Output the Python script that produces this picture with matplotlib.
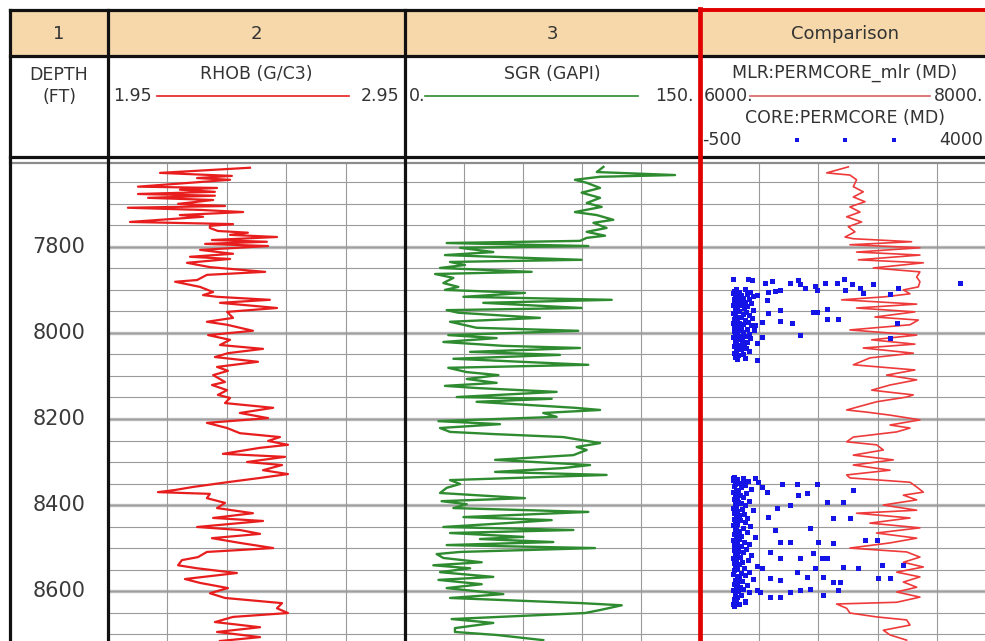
import matplotlib
matplotlib.use("Agg")
import matplotlib.pyplot as plt

# ---------------- data ----------------
track_titles = ["1", "2", "3", "Comparison"]
depth_labels = [7800, 8000, 8200, 8400, 8600]
grid_depths = [7650, 7700, 7750, 7800, 7850, 7900, 7950, 8000, 8050, 8100, 8150, 8200,
               8250, 8300, 8350, 8400, 8450, 8500, 8550, 8600, 8650, 8700]
depth_top, depth_bottom = 7605, 8716

rhob_range = [1.95, 2.95]
rhob_grid = [2.15, 2.35, 2.55, 2.75]
rhob_depth = [7616, 7628, 7635, 7640, 7644, 7660, 7663, 7667, 7672, 7677, 7681, 7686, 7691,
              7700, 7705, 7709, 7714, 7719, 7726, 7730, 7742, 7747, 7751, 7756, 7763, 7767,
              7772, 7777, 7784, 7788, 7793, 7798, 7807, 7816, 7823, 7828, 7837, 7847, 7853,
              7858, 7865, 7877, 7881, 7893, 7905, 7912, 7916, 7923, 7930, 7942, 7951, 7965,
              7974, 7981, 7995, 8005, 8016, 8028, 8037, 8047, 8056, 8067, 8079, 8088, 8098,
              8114, 8121, 8133, 8144, 8151, 8163, 8174, 8186, 8198, 8209, 8221, 8233, 8242,
              8251, 8260, 8267, 8281, 8288, 8300, 8307, 8319, 8328, 8337, 8347, 8358, 8365,
              8370, 8374, 8384, 8395, 8407, 8419, 8430, 8437, 8451, 8458, 8467, 8477, 8488,
              8500, 8509, 8521, 8528, 8540, 8547, 8558, 8572, 8581, 8593, 8605, 8616, 8628,
              8640, 8651, 8660, 8672, 8684, 8695, 8707, 8716]
rhob_value = [2.428, 2.125, 2.367, 2.250, 2.361, 2.051, 2.317, 2.192, 2.310, 2.051, 2.310,
              2.085, 2.304, 2.186, 2.344, 2.017, 2.260, 2.405, 2.192, 2.270, 2.024, 2.371,
              2.293, 2.293, 2.320, 2.421, 2.361, 2.519, 2.300, 2.485, 2.277, 2.489, 2.260,
              2.371, 2.226, 2.361, 2.216, 2.293, 2.394, 2.479, 2.283, 2.250, 2.176, 2.260,
              2.304, 2.270, 2.317, 2.495, 2.327, 2.519, 2.351, 2.371, 2.283, 2.351, 2.438,
              2.287, 2.361, 2.327, 2.472, 2.354, 2.310, 2.455, 2.317, 2.354, 2.304, 2.344,
              2.300, 2.351, 2.320, 2.361, 2.344, 2.506, 2.394, 2.489, 2.283, 2.351, 2.394,
              2.529, 2.489, 2.556, 2.462, 2.337, 2.546, 2.418, 2.536, 2.472, 2.556, 2.462,
              2.351, 2.236, 2.176, 2.118, 2.293, 2.283, 2.344, 2.317, 2.438, 2.304, 2.472,
              2.250, 2.394, 2.462, 2.300, 2.394, 2.506, 2.283, 2.253, 2.199, 2.186, 2.250,
              2.384, 2.209, 2.260, 2.354, 2.293, 2.344, 2.536, 2.519, 2.556, 2.371, 2.310,
              2.462, 2.317, 2.462, 2.327]

sgr_range = [0, 150]
sgr_grid = [30, 60, 90, 120]
sgr_depth = [7614, 7626, 7633, 7637, 7644, 7651, 7663, 7674, 7686, 7698, 7707, 7719, 7726,
             7737, 7744, 7756, 7765, 7774, 7779, 7786, 7791, 7798, 7802, 7812, 7819, 7830,
             7835, 7842, 7849, 7858, 7863, 7872, 7884, 7893, 7900, 7907, 7916, 7923, 7930,
             7942, 7947, 7953, 7965, 7974, 7981, 7988, 7995, 8005, 8012, 8021, 8030, 8035,
             8044, 8051, 8060, 8074, 8081, 8091, 8098, 8107, 8116, 8123, 8128, 8137, 8149,
             8153, 8160, 8174, 8179, 8186, 8195, 8205, 8212, 8221, 8230, 8235, 8242, 8249,
             8256, 8265, 8272, 8284, 8295, 8307, 8314, 8323, 8330, 8342, 8351, 8360, 8372,
             8384, 8391, 8398, 8407, 8416, 8428, 8435, 8442, 8451, 8458, 8465, 8474, 8479,
             8486, 8493, 8500, 8509, 8514, 8523, 8533, 8540, 8547, 8556, 8567, 8574, 8584,
             8593, 8607, 8616, 8628, 8633, 8644, 8651, 8665, 8674, 8686, 8695, 8702, 8714]
sgr_value = [100.9, 97.5, 137.3, 99.2, 86.4, 92.4, 99.2, 89.8, 99.2, 92.4, 100.0, 86.4, 97.5,
             105.9, 95.8, 102.5, 92.4, 101.7, 92.4, 89.0, 21.2, 93.2, 28.0, 44.9, 20.3, 89.8,
             22.9, 30.5, 17.8, 64.4, 15.3, 24.6, 19.5, 27.1, 20.3, 61.0, 29.7, 105.1, 39.8,
             89.8, 21.2, 27.1, 68.6, 22.9, 29.7, 36.4, 88.1, 22.0, 46.6, 19.5, 50.0, 89.0,
             33.1, 78.8, 24.6, 93.2, 22.0, 31.4, 47.5, 31.4, 46.6, 20.3, 36.4, 77.1, 26.3,
             74.6, 36.4, 86.4, 99.2, 70.3, 77.1, 17.0, 48.3, 17.8, 22.9, 44.9, 80.5, 89.8,
             99.2, 87.3, 92.4, 85.6, 45.8, 94.1, 80.5, 45.8, 102.5, 22.9, 28.0, 21.2, 17.8,
             61.0, 18.6, 31.4, 24.6, 93.2, 29.7, 74.6, 51.7, 19.5, 85.6, 22.9, 60.2, 38.1,
             75.4, 21.2, 96.6, 28.0, 16.1, 19.5, 39.0, 14.4, 33.1, 17.8, 44.9, 17.0, 39.0,
             21.2, 50.0, 22.9, 89.8, 110.2, 99.2, 91.5, 23.7, 44.9, 25.4, 25.4, 46.6, 70.3]

mlr_range = [6000, 8000]
core_range = [-500, 4000]
comp_grid = [6400, 6800, 7200, 7600]
mlr_depth = [7614, 7628, 7633, 7644, 7660, 7672, 7684, 7695, 7707, 7719, 7730, 7742, 7753,
             7765, 7777, 7781, 7788, 7795, 7802, 7812, 7819, 7830, 7837, 7849, 7858, 7870,
             7881, 7893, 7900, 7909, 7916, 7923, 7933, 7942, 7951, 7963, 7970, 7981, 7993,
             8005, 8016, 8026, 8035, 8047, 8058, 8074, 8086, 8098, 8109, 8121, 8133, 8144,
             8149, 8160, 8179, 8184, 8191, 8202, 8214, 8221, 8230, 8242, 8253, 8260, 8272,
             8284, 8295, 8307, 8319, 8330, 8337, 8347, 8358, 8370, 8377, 8388, 8400, 8412,
             8419, 8430, 8442, 8453, 8465, 8477, 8488, 8500, 8509, 8521, 8533, 8544, 8556,
             8567, 8579, 8591, 8602, 8614, 8626, 8630, 8640, 8651, 8660, 8667, 8679, 8691,
             8702, 8714]
mlr_value = [7002, 6856, 7013, 7058, 7036, 7103, 7036, 7115, 7013, 7081, 6991, 7092, 7002,
             7047, 6980, 7036, 7430, 7013, 7486, 7058, 7486, 7070, 7509, 7171, 7486, 7464,
             7486, 7475, 7374, 7419, 7250, 6957, 7464, 7058, 7452, 7182, 7475, 7419, 7013,
             7464, 7160, 7452, 7103, 7441, 7148, 7036, 7452, 7261, 7464, 7284, 7160, 7441,
             7396, 7193, 6991, 7126, 7284, 7486, 7284, 7419, 7329, 7036, 6991, 7193, 7239,
             7036, 7306, 7036, 7284, 6991, 7013, 7419, 7464, 7509, 7374, 7464, 7239, 7464,
             7058, 7419, 7148, 7486, 7193, 7464, 7284, 7013, 7396, 7486, 7374, 7509, 7329,
             7486, 7374, 7464, 7329, 7486, 7329, 6923, 6991, 7013, 7193, 7396, 7419, 7239,
             7284, 7396]

core_scatter_depth = [7874, 7875, 7878, 7883, 7879, 7883, 7877, 7887, 7896, 7892, 7900, 7883,
                      7883, 7874, 7900, 7887, 7896, 7908, 7887, 7910, 7896, 7883, 7904, 7902,
                      7900, 7923, 7954, 7947, 7972, 7977, 8005, 7952, 7951, 7944, 7967, 7967,
                      8009, 8024, 7977, 8012, 8063, 7981, 7974, 7912,
                      8338, 8346, 8338, 8347, 8357, 8369, 8350, 8350, 8373, 8350, 8377, 8400,
                      8408, 8392, 8394, 8365, 8431, 8430, 8427, 8458, 8485, 8485, 8454, 8485,
                      8489, 8481, 8481, 8509, 8524, 8524, 8512, 8524, 8524, 8547, 8555, 8567,
                      8547, 8543, 8547, 8540, 8540, 8570, 8574, 8567, 8578, 8578, 8570, 8570,
                      8598, 8613, 8613, 8602, 8598, 8594, 8609, 8598, 8629, 8625, 8602]
core_scatter_value = [7, 235, 286, 488, 590, 868, 995, 1020, 1096, 1249, 1274, 1400,
                      1578, 1689, 1705, 1806, 1933, 1983, 2135, 2389, 2516, 3453, 539, 640,
                      716, 514, 539, 716, 716, 894, 1020, 1223, 1274, 1426, 1426, 1603,
                      438, 362, 2490, 2389, 362, 336, 438, 362,
                      7, 159, 336, 387, 438, 514, 742, 970, 1122, 1274, 995, 868,
                      666, 1426, 1679, 1831, 1781, 1527, 539, 640, 716, 868, 1172, 1299,
                      1527, 2009, 2186, 564, 716, 1020, 1223, 1350, 1426, 438, 970, 1122,
                      1249, 1679, 1907, 2262, 2592, 564, 716, 1375, 1527, 1629, 2211, 2389,
                      362, 564, 716, 868, 1020, 1172, 1375, 1603, 7, 184, 412]

core_col1_depth = [7897, 7899, 7902, 7904, 7905, 7907, 7909, 7911, 7913, 7914,
                   7916, 7918, 7920, 7922, 7924, 7925, 7927, 7929, 7931, 7933,
                   7935, 7936, 7938, 7940, 7942, 7944, 7946, 7948, 7950, 7952,
                   7954, 7956, 7958, 7960, 7962, 7964, 7966, 7968, 7970, 7972,
                   7974, 7976, 7978, 7980, 7982, 7984, 7986, 7988, 7990, 7992,
                   7994, 7996, 7998, 8000, 8002, 8004, 8006, 8008, 8010, 8012,
                   8014, 8016, 8018, 8020, 8022, 8025, 8028, 8031, 8034, 8037,
                   8040, 8043, 8046, 8049, 8052, 8055, 8058, 8061]
core_col1_value = [40, 180, 15, 260, 90, 5, 210, 130, 30, 300,
                   70, 160, 10, 240, 110, 50, 190, 20, 280, 85,
                   140, 0, 220, 60, 170, 25, 310, 100, 45, 200,
                   8, 150, 250, 35, 120, 75, 290, 15, 180, 55,
                   230, 95, 5, 160, 270, 40, 130, 20, 210, 80,
                   320, 10, 150, 60, 240, 30, 190, 110, 0, 260,
                   70, 140, 25, 220, 50, 170, 90, 15, 200, 120,
                   40, 250, 10, 160, 80, 30, 190, 60]

core_col2_depth = [8334, 8336, 8339, 8342, 8345, 8348, 8350, 8353, 8356, 8359,
                   8362, 8364, 8367, 8370, 8373, 8376, 8378, 8381, 8384, 8387,
                   8390, 8392, 8395, 8398, 8401, 8404, 8406, 8409, 8412, 8415,
                   8418, 8420, 8423, 8426, 8429, 8432, 8434, 8437, 8440, 8443,
                   8446, 8448, 8451, 8454, 8457, 8460, 8462, 8465, 8468, 8471,
                   8474, 8476, 8479, 8482, 8485, 8488, 8490, 8493, 8496, 8499,
                   8502, 8504, 8507, 8510, 8513, 8516, 8518, 8521, 8524, 8527,
                   8530, 8532, 8535, 8538, 8541, 8544, 8546, 8549, 8552, 8555,
                   8558, 8560, 8563, 8566, 8569, 8572, 8574, 8577, 8580, 8583,
                   8586, 8588, 8591, 8594, 8597, 8600, 8603, 8606, 8610, 8614,
                   8618, 8622, 8626, 8630, 8634]
core_col2_value = [20, 150, 60, 5, 230, 90, 35, 180, 10, 120,
                   270, 45, 75, 0, 200, 110, 30, 160, 55, 15,
                   250, 85, 130, 25, 190, 40, 8, 140, 300, 65,
                   20, 170, 95, 50, 220, 10, 115, 35, 180, 70,
                   0, 260, 45, 150, 25, 90, 210, 60, 15, 130,
                   330, 40, 100, 5, 175, 70, 240, 20, 120, 50,
                   195, 10, 85, 155, 30, 280, 60, 110, 0, 225,
                   45, 140, 15, 95, 360, 35, 170, 70, 20, 250,
                   120, 5, 190, 55, 90, 300, 25, 145, 65, 10,
                   215, 40, 110, 160, 0, 75, 240, 30, 130, 60,
                   15, 180, 40, 95, 20]

# ---------------- layout ----------------
W, H = 985, 641
fig = plt.figure(figsize=(W / 100, H / 100), dpi=100)
fig.patch.set_facecolor("white")

def box(x0, y0, x1, y1):
    return [x0 / W, 1 - y1 / H, (x1 - x0) / W, (y1 - y0) / H]

DTOP, DBOT = 163, 641
track_x = [(10, 108), (108, 405), (405, 700), (700, 996)]

RED = "#E81E1E"
GREEN = "#2E8B30"
BLUE = "#1414E6"
GRID = "#9A9A9A"
MAJ = "#B8B8B8"
TXT = "#333333"

def make_track(xs, xlim, xgrid, grid=True):
    ax = fig.add_axes(box(xs[0], DTOP, xs[1], DBOT))
    ax.set_xlim(*xlim)
    ax.set_ylim(depth_bottom, depth_top)
    for s in ax.spines.values():
        s.set_visible(False)
    ax.tick_params(left=False, bottom=False, labelleft=False, labelbottom=False)
    ax.set_xticks([])
    ax.set_yticks([])
    if grid:
        for d in grid_depths:
            if d in depth_labels:
                ax.axhline(d, color=MAJ, lw=2.4, zorder=0)
                ax.axhline(d, color=GRID, lw=0.6, zorder=0)
            else:
                ax.axhline(d, color=GRID, lw=0.8, zorder=0)
        for gx in xgrid:
            ax.axvline(gx, color=GRID, lw=0.8, zorder=0)
    return ax

ax_d = make_track(track_x[0], (0, 1), [], grid=False)
for d in depth_labels:
    ax_d.text(0.5, d, str(d), ha="center", va="center", fontsize=15, color="#3a3a3a")

ax_r = make_track(track_x[1], rhob_range, rhob_grid)
ax_r.plot(rhob_value, rhob_depth, color=RED, lw=1.6)

ax_g = make_track(track_x[2], sgr_range, sgr_grid)
ax_g.plot(sgr_value, sgr_depth, color=GREEN, lw=1.7)

ax_c = make_track(track_x[3], mlr_range, comp_grid)
ax_c.plot(mlr_value, mlr_depth, color="#EE3A3A", lw=1.2)
ax_k = ax_c.twiny()
ax_k.set_xlim(*core_range)
ax_k.axis("off")
for dd, vv in ((core_scatter_depth, core_scatter_value),
               (core_col1_depth, core_col1_value),
               (core_col2_depth, core_col2_value)):
    n = min(len(dd), len(vv))
    ax_k.plot(vv[:n], dd[:n], "s", ms=3.6, mew=0, color=BLUE)

# ---------------- header / frame overlay ----------------
ov = fig.add_axes([0, 0, 1, 1])
ov.set_xlim(0, W)
ov.set_ylim(H, 0)
ov.axis("off")
ov.patch.set_alpha(0)

ov.add_patch(plt.Rectangle((10, 10), 990, 46, facecolor="#F6D8AA", edgecolor="none", zorder=0))

centers = [59, 256, 552, 845]
for cx, t in zip(centers, track_titles):
    ov.text(cx, 34, t, ha="center", va="center", fontsize=13, color=TXT)

hs = 12.5
ov.text(59, 75, "DEPTH", ha="center", va="center", fontsize=hs, color=TXT)
ov.text(59, 97, "(FT)", ha="center", va="center", fontsize=hs, color=TXT)

ov.text(256, 74, "RHOB (G/C3)", ha="center", va="center", fontsize=hs, color=TXT)
ov.text(113, 96, "1.95", ha="left", va="center", fontsize=hs, color=TXT)
ov.text(399, 96, "2.95", ha="right", va="center", fontsize=hs, color=TXT)
ov.plot([157, 349], [96, 96], color=RED, lw=1.2)

ov.text(552, 74, "SGR (GAPI)", ha="center", va="center", fontsize=hs, color=TXT)
ov.text(409, 96, "0.", ha="left", va="center", fontsize=hs, color=TXT)
ov.text(694, 96, "150.", ha="right", va="center", fontsize=hs, color=TXT)
ov.plot([425, 638], [96, 96], color=GREEN, lw=1.2)

ov.text(845, 73, "MLR:PERMCORE_mlr (MD)", ha="center", va="center", fontsize=hs, color=TXT)
ov.text(704, 96, "6000.", ha="left", va="center", fontsize=hs, color=TXT)
ov.text(983, 96, "8000.", ha="right", va="center", fontsize=hs, color=TXT)
ov.plot([750, 930], [96, 96], color="#D96060", lw=1.2)
ov.text(845, 118, "CORE:PERMCORE (MD)", ha="center", va="center", fontsize=hs, color=TXT)
ov.text(702, 140, "-500", ha="left", va="center", fontsize=hs, color=TXT)
ov.text(983, 140, "4000", ha="right", va="center", fontsize=hs, color=TXT)
ov.plot([797, 845, 894], [140, 140, 140], "s", ms=2.4, mew=0, color=BLUE)

K = "#111111"
blw = 2.3
ov.plot([10, 700], [10, 10], color=K, lw=blw, solid_capstyle="projecting")
ov.plot([700, 990], [10, 10], color="#E00000", lw=blw + 0.5)
ov.plot([10, 990], [56, 56], color=K, lw=blw)
ov.plot([10, 990], [157, 157], color=K, lw=blw)
ov.plot([10, 990], [162.5, 162.5], color="#8C8C8C", lw=1.6)
for xv in (10, 108, 405):
    ov.plot([xv, xv], [10, 645], color=K, lw=blw, solid_capstyle="projecting")
ov.plot([700, 700], [9, 645], color="#E00000", lw=3.4)

fig.savefig("out.png", dpi=100, facecolor="white")
